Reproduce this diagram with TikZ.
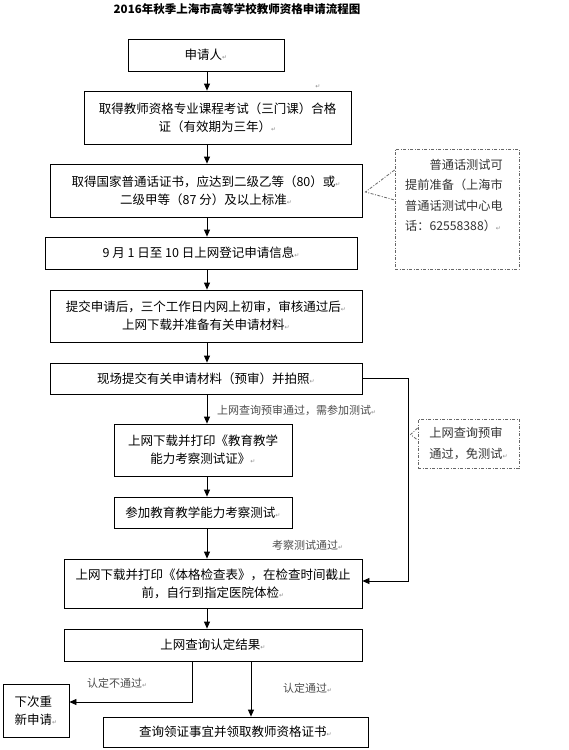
\documentclass[tikz,border=0pt]{standalone}
\usepackage{fontspec}
\setmainfont{Noto Sans CJK SC}
\newfontfamily\symfont{DejaVu Sans}
\usetikzlibrary{arrows.meta}
\newcommand{\ret}{{\symfont\fontsize{6}{6}\selectfont\textcolor{black!45}{↵}}}

\begin{document}
\begin{tikzpicture}[
  x=1pt, y=-1pt,
  box/.style={rectangle, draw, line width=0.8pt, align=center, inner sep=0pt, font=\fontsize{12.5}{18}\selectfont},
  arr/.style={-{Triangle[length=7pt,width=6pt]}, line width=0.8pt},
  note/.style={draw=black!60, line width=0.8pt, dash pattern=on 3pt off 1.5pt on 1pt off 1.5pt},
  notetext/.style={inner sep=0pt, align=left, text=black!80, font=\fontsize{12.2}{20.5}\selectfont},
  lbl/.style={anchor=west, inner sep=0pt, text=black!70, font=\fontsize{11}{11}\selectfont}
]
\useasboundingbox (0,0) rectangle (569,750);

% title
\node[font=\bfseries\fontsize{11.5}{11.5}\selectfont] (title) at (237,9) {2016年秋季上海市高等学校教师资格申请流程图};

% main steps
\node[box, minimum width=156pt, minimum height=32pt] (b1) at (206,55) {申请人\ret};
\node[inner sep=0pt] (stray) at (318,87) {\ret};
\node[box, minimum width=267pt, minimum height=53pt] (b2) at (217.5,117.5) {取得教师资格专业课程考试（三门课）合格\\证（有效期为三年）\ret};
\node[box, minimum width=312pt, minimum height=53pt] (b3) at (206,190.5) {取得国家普通话证书，应达到二级乙等（80）或\ret\\二级甲等（87 分）及以上标准\ret};
\node[box, minimum width=312pt, minimum height=32pt] (b4) at (201,253) {9 月 1 日至 10 日上网登记申请信息\ret};
\node[box, minimum width=312pt, minimum height=52pt] (b5) at (206,316) {提交申请后，三个工作日内网上初审，审核通过后\ret\\上网下载并准备有关申请材料\ret};
\node[box, minimum width=312pt, minimum height=31pt] (b6) at (206,378.5) {现场提交有关申请材料（预审）并拍照\ret};
\node[box, minimum width=178pt, minimum height=52pt] (b7) at (203,450) {上网下载并打印《教育教学\\能力考察测试证》\ret};
\node[box, minimum width=178pt, minimum height=31pt] (b8) at (203,512.5) {参加教育教学能力考察测试\ret};
\node[box, minimum width=298pt, minimum height=49pt] (b9) at (213,583.5) {上网下载并打印《体格检查表》，在检查时间截止\\前，自行到指定医院体检\ret};
\node[box, minimum width=298pt, minimum height=32pt] (b10) at (213,645) {上网查询认定结果\ret};
\node[box, align=left, minimum width=66pt, minimum height=53pt] (b11) at (36,710.5) {下次重\\新申请\ret};
\node[box, minimum width=265pt, minimum height=30pt] (b12) at (235.5,732) {查询领证事宜并领取教师资格证书\ret};

% side notes
\node[note, minimum width=124pt, minimum height=120pt] (noteA) at (457,209) {};
\node[notetext, anchor=north west] (noteAtxt) at (405,159) {\hspace{2em}普通话测试可\\提前准备（上海市\\普通话测试中心电\\话：62558388）\ret};
\node[note, notetext, minimum width=101pt, minimum height=49pt] (noteB) at (468.5,443.5) {上网查询预审\\通过，免测试\ret};
\coordinate (tipA) at ([xshift=3pt,yshift=-1.5pt]b3.east);
\coordinate (tipB) at ([xshift=-7pt,yshift=9pt]noteB.west);
\draw[note] ([yshift=39pt]noteA.west) -- (tipA) -- ([yshift=9pt]noteA.west);
\draw[note] ([yshift=15.5pt]noteB.west) -- (tipB) -- ([yshift=3.5pt]noteB.west);

% main flow
\coordinate (sp) at (207,0);
\draw[arr] (sp |- b1.south) -- (sp |- b2.north);
\draw[arr] (sp |- b2.south) -- (sp |- b3.north);
\draw[arr] (sp |- b3.south) -- (sp |- b4.north);
\draw[arr] (sp |- b4.south) -- (sp |- b5.north);
\draw[arr] (sp |- b5.south) -- (sp |- b6.north);
\draw[arr] (sp |- b6.south) -- (sp |- b7.north);
\draw[arr] (sp |- b7.south) -- (sp |- b8.north);
\draw[arr] (sp |- b8.south) -- (sp |- b9.north);
\draw[arr] (sp |- b9.south) -- (sp |- b10.north);
\draw[arr] (b6.east) -- ++(46,0) |- ([yshift=2.5pt]b9.east);
\draw[arr] ([xshift=-21pt]b10.south) |- ([yshift=8.5pt]b11.east);
\draw[arr] ([xshift=38pt]b10.south) -- ([xshift=38pt]b10.south |- b12.north);

% branch labels
\node[lbl] (l1) at (217,410) {上网查询预审通过，需参加测试\ret};
\node[lbl] (l2) at (272,545) {考察测试通过\ret};
\node[lbl] (l3) at (87,683) {认定不通过\ret};
\node[lbl] (l4) at (283,688) {认定通过\ret};
\end{tikzpicture}
\end{document}
